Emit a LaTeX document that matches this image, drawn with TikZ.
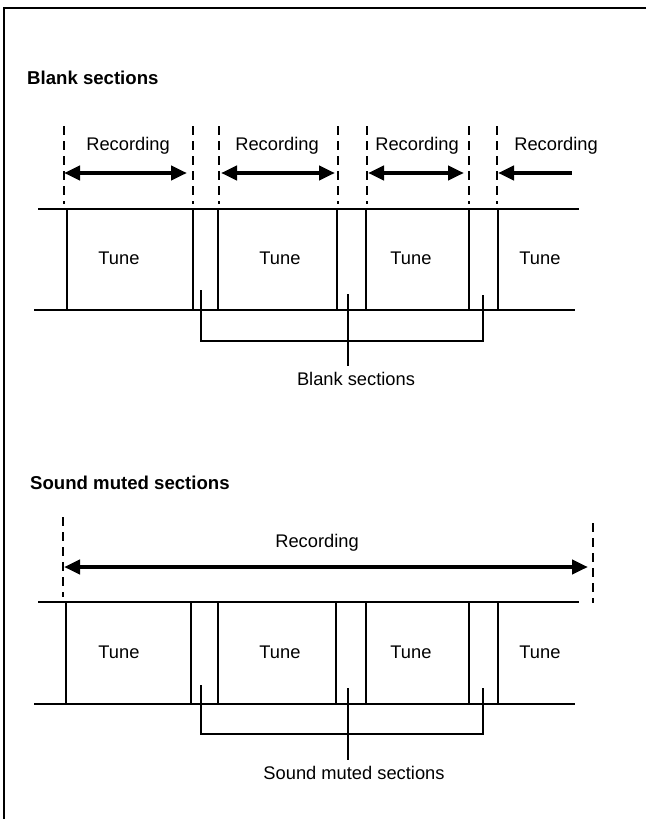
\documentclass[tikz,border=0pt]{standalone}
\usepackage{fontspec}
\setmainfont{Liberation Sans}
\usetikzlibrary{arrows.meta}
\begin{document}
\begin{tikzpicture}[x=1pt,y=-1pt,
  frameline/.style={line width=2pt},
  tapeline/.style={line width=2pt},
  bound/.style={line width=2.6pt},
  guide/.style={line width=1.3pt, dash pattern=on 9pt off 6pt},
  recboth/.style={line width=4pt, {Triangle[length=16pt,width=14pt]}-{Triangle[length=16pt,width=14pt]}},
  recleft/.style={line width=4pt, {Triangle[length=16pt,width=14pt]}-},
  brk/.style={line width=1.2pt},
  lbl/.style={font=\fontsize{18.3}{20}\selectfont, inner sep=0pt},
  ttl/.style={font=\bfseries\fontsize{18.6}{20}\selectfont, anchor=west, inner sep=0pt}]
\useasboundingbox (0,0) rectangle (646,819);
% frame
\coordinate (fTL) at (4,8);
\coordinate (fTR) at (646,8);
\coordinate (fBL) at (4,819);
\draw[frameline] (fTR) -- (fTL) -- (fBL);

% ===== Blank sections =====
\node[ttl] (t1) at (27,78) {Blank sections};
% guides
\foreach \n/\x in {a/64,b/193,c/219,d/338,e/367,f/469,g/497}{
  \coordinate (g1\n t) at (\x,126);
  \coordinate (g1\n b) at (\x,204);
  \draw[guide] (g1\n t) -- (g1\n b);
}
% recording arrows
\coordinate (r1a) at (64,173); \coordinate (r1b) at (187,173);
\coordinate (r2a) at (221,173); \coordinate (r2b) at (335,173);
\coordinate (r3a) at (368,173); \coordinate (r3b) at (464,173);
\coordinate (r4a) at (498,173); \coordinate (r4b) at (572,173);
\draw[recboth] (r1a) -- (r1b);
\draw[recboth] (r2a) -- (r2b);
\draw[recboth] (r3a) -- (r3b);
\draw[recleft] (r4a) -- (r4b);
\node[lbl] (rl1) at (128,146) {Recording};
\node[lbl] (rl2) at (277,146) {Recording};
\node[lbl] (rl3) at (417,146) {Recording};
\node[lbl] (rl4) at (556,146) {Recording};
% tape
\coordinate (tp1a) at (38,209); \coordinate (tp1b) at (579,209);
\coordinate (bt1a) at (34,310); \coordinate (bt1b) at (575,310);
\draw[tapeline] (tp1a) -- (tp1b);
\draw[tapeline] (bt1a) -- (bt1b);
\foreach \n/\x in {a/67,b/193,c/218,d/337,e/366,f/469,g/498}{
  \coordinate (v1\n t) at (\x,209);
  \coordinate (v1\n b) at (\x,310);
  \draw[bound] (v1\n t) -- (v1\n b);
}
\node[lbl] (tu11) at (119,258) {Tune};
\node[lbl] (tu12) at (280,258) {Tune};
\node[lbl] (tu13) at (411,258) {Tune};
\node[lbl] (tu14) at (540,258) {Tune};
% bracket
\coordinate (k1a) at (201,290); \coordinate (k1ab) at (201,341);
\coordinate (k1c) at (483,295); \coordinate (k1cb) at (483,341);
\coordinate (k1m) at (348,294); \coordinate (k1mb) at (348,366);
\draw[brk] (k1a) -- (k1ab) -- (k1cb) -- (k1c);
\draw[brk] (k1m) -- (k1mb);
\node[lbl] (bl1) at (356,379) {Blank sections};

% ===== Sound muted sections =====
\node[ttl] (t2) at (30,483) {Sound muted sections};
\coordinate (g2at) at (63,517); \coordinate (g2ab) at (63,597);
\coordinate (g2bt) at (593,523); \coordinate (g2bb) at (593,603);
\draw[guide] (g2at) -- (g2ab);
\draw[guide] (g2bt) -- (g2bb);
\coordinate (r5a) at (64,567); \coordinate (r5b) at (588,567);
\draw[recboth] (r5a) -- (r5b);
\node[lbl] (rl5) at (317,543) {Recording};
% tape
\coordinate (tp2a) at (38,602); \coordinate (tp2b) at (579,602);
\coordinate (bt2a) at (34,704); \coordinate (bt2b) at (575,704);
\draw[tapeline] (tp2a) -- (tp2b);
\draw[tapeline] (bt2a) -- (bt2b);
\foreach \n/\x in {a/66,b/191,c/218,d/336,e/366,f/469,g/498}{
  \coordinate (v2\n t) at (\x,602);
  \coordinate (v2\n b) at (\x,704);
  \draw[bound] (v2\n t) -- (v2\n b);
}
\node[lbl] (tu21) at (119,652) {Tune};
\node[lbl] (tu22) at (280,652) {Tune};
\node[lbl] (tu23) at (411,652) {Tune};
\node[lbl] (tu24) at (540,652) {Tune};
% bracket
\coordinate (k2a) at (201,685); \coordinate (k2ab) at (201,734);
\coordinate (k2c) at (483,688); \coordinate (k2cb) at (483,734);
\coordinate (k2m) at (348,688); \coordinate (k2mb) at (348,760);
\draw[brk] (k2a) -- (k2ab) -- (k2cb) -- (k2c);
\draw[brk] (k2m) -- (k2mb);
\node[lbl] (bl2) at (354,773) {Sound muted sections};
\end{tikzpicture}
\end{document}
